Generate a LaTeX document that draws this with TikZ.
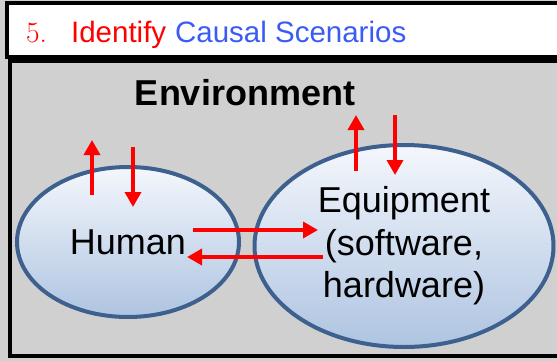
\documentclass[tikz,border=0pt]{standalone}
\usepackage{fontspec}
\setsansfont{Liberation Sans}
\usetikzlibrary{shapes.geometric,arrows.meta}
\definecolor{panelgray}{RGB}{208,208,208}
\definecolor{ellborder}{RGB}{61,96,142}
\definecolor{elltop}{RGB}{244,247,252}
\definecolor{ellbot}{RGB}{174,196,225}
\definecolor{titleblue}{RGB}{58,92,245}
\begin{document}
\begin{tikzpicture}[
      x=1pt, y=-1pt,
      frame/.style={draw=black, line width=4pt},
      blob/.style={ellipse, draw=ellborder, line width=4pt, top color=elltop,
                   bottom color=ellbot, inner sep=0pt, align=center,
                   font=\sffamily\fontsize{36}{42.5}\selectfont},
      flow/.style={draw=red, line width=3.5pt, -{Triangle[width=16pt,length=15pt]}}
    ]
    \useasboundingbox (0,0) rectangle (557,361);
    \clip (0,0) rectangle (557,361);
    \fill[panelgray] (0,0) rectangle (557,361);
    \draw[frame, fill=panelgray] (10,61) rectangle (600,356);
    \draw[frame, fill=white] (7,3) rectangle (600,57);

    \node[anchor=base west, inner sep=0pt, font=\fontsize{29.5}{34}\selectfont] (title) at (26,43)
      {\textcolor{red}{5.}\hspace{24pt}\textcolor{red}{\sffamily Identify} \textcolor{titleblue}{\sffamily Causal Scenarios}};
    \node[anchor=base, inner sep=0pt, font=\sffamily\bfseries\fontsize{36}{42}\selectfont] (env) at (245,105) {Environment};

    \node[blob, minimum width=222pt, minimum height=150pt] (human) at (128,242) {Human};
    \node[blob, minimum width=299pt, minimum height=202pt] (equip) at (404,246) {Equipment\\(software,\\hardware)};

    \coordinate (hup0) at (92,195);   \coordinate (hup1) at (92,140);
    \coordinate (hdn0) at (133,147);  \coordinate (hdn1) at (133,207);
    \coordinate (eup0) at (356,171);  \coordinate (eup1) at (356,115);
    \coordinate (edn0) at (395,115);  \coordinate (edn1) at (395,175);
    \coordinate (he0) at (193,230);   \coordinate (he1) at (318,230);
    \coordinate (eh0) at (323,257);   \coordinate (eh1) at (187,257);

    \draw[flow] (hup0) -- (hup1);
    \draw[flow] (hdn0) -- (hdn1);
    \draw[flow] (eup0) -- (eup1);
    \draw[flow] (edn0) -- (edn1);
    \draw[flow] (he0) -- (he1);
    \draw[flow] (eh0) -- (eh1);
  \end{tikzpicture}
\end{document}
